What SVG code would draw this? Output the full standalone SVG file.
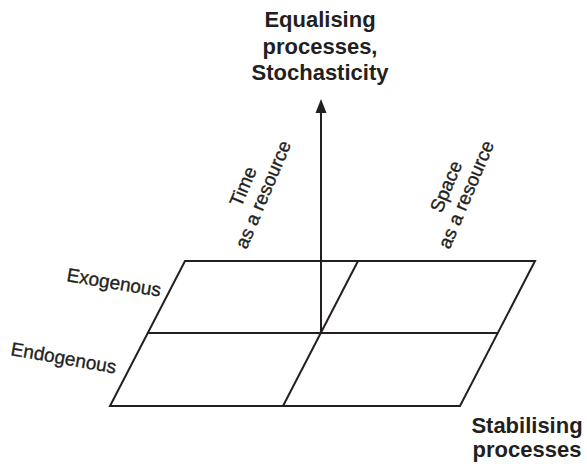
<svg xmlns="http://www.w3.org/2000/svg" width="587" height="464" viewBox="0 0 587 464">
  <style>
    .ln { stroke: #231f20; stroke-width: 2; fill: none; stroke-linecap: butt; stroke-linejoin: miter; }
    .title { font-family: "Liberation Sans", Arial, sans-serif; font-weight: bold; font-size: 22px; fill: #231f20; text-anchor: middle; }
    .lbl { font-family: "Liberation Sans", Arial, sans-serif; font-size: 19px; fill: #231f20; stroke: #231f20; stroke-width: 0.35; }
    .mid { text-anchor: middle; }
  </style>

  <g id="grid">
    <polygon class="ln" points="185,261 535,261 460,406 110,406"/>
    <line class="ln" x1="148" y1="333" x2="497" y2="333"/>
    <line class="ln" x1="358" y1="261" x2="283" y2="406"/>
  </g>

  <g id="connectors">
    <line class="ln" x1="321" y1="333" x2="321" y2="112"/>
    <polygon points="321,99 315.5,113 326.5,113" fill="#231f20"/>
  </g>

  <g id="node-equalising">
    <text class="title" x="320" y="27">Equalising</text>
    <text class="title" x="320" y="54">processes,</text>
    <text class="title" x="320" y="80">Stochasticity</text>
  </g>

  <g id="node-stabilising">
    <text class="title" x="527" y="433">Stabilising</text>
    <text class="title" x="527" y="457">processes</text>
  </g>

  <g id="node-exogenous">
    <text class="lbl" transform="translate(66,281) rotate(9.5)">Exogenous</text>
  </g>

  <g id="node-endogenous">
    <text class="lbl" transform="translate(10,355) rotate(10)">Endogenous</text>
  </g>

  <g id="node-time">
    <text class="lbl mid" transform="translate(249,189) rotate(-67)">Time</text>
    <text class="lbl mid" transform="translate(269,197) rotate(-67)">as a resource</text>
  </g>

  <g id="node-space">
    <text class="lbl mid" transform="translate(452,189) rotate(-67)">Space</text>
    <text class="lbl mid" transform="translate(472,197) rotate(-67)">as a resource</text>
  </g>
</svg>
